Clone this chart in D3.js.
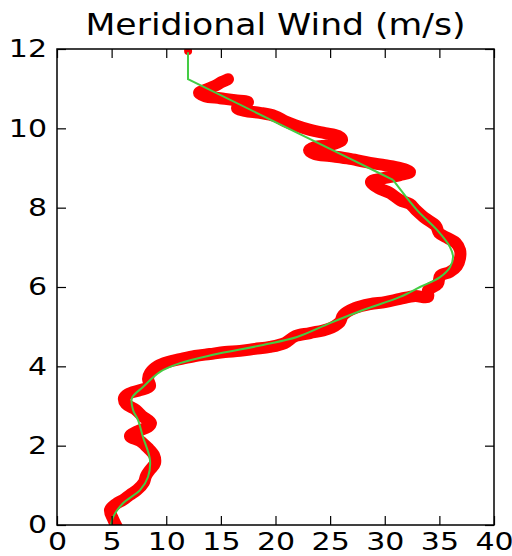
<!DOCTYPE html>
<html>
<head>
<meta charset="utf-8">
<script src="https://cdn.jsdelivr.net/npm/d3@7"></script>
<style>
  html, body { margin: 0; padding: 0; background: #fff; }
  svg { display: block; font-family: "DejaVu Sans", sans-serif; }
</style>
</head>
<body>
<svg id="canvas"></svg>
<script>
// observed wind (red) - altitude in km, wind in m/s, bottom to top
const obsAlt = [-0.05,0.15,0.38,0.53,0.63,0.76,0.88,1.08,1.24,1.39,1.56,1.76,1.94,2.12,2.24,2.37,2.47,2.57,2.75,2.90,
  3.05,3.20,3.30,3.40,3.50,3.68,3.83,4.01,4.11,4.18,4.26,4.31,4.36,4.39,4.44,4.49,4.59,4.76,4.84,4.94,
  5.12,5.29,5.47,5.57,5.62,5.70,5.77,5.75,5.92,6.08,6.28,6.38,6.53,6.73,6.93,7.11,7.23,7.36,7.54,7.74,
  7.94,8.09,8.19,8.37,8.50,8.65,8.75,8.82,8.90,9.00,9.07,9.13,9.23,9.30,9.35,9.45,9.53,9.58,9.71,9.81,
  9.88,9.96,10.08,10.18,10.31,10.39,10.44,10.51,10.61,10.66,10.71,10.76,10.81,10.89,10.97,11.07,11.17,11.24];
const obsWind = [5.49,5.13,4.85,5.40,6.04,6.68,7.32,7.96,8.15,8.51,8.97,8.88,8.33,7.60,6.68,7.41,8.33,8.60,7.78,7.23,
  6.32,6.13,6.50,7.60,8.51,8.33,8.51,9.24,10.16,11.26,12.63,14.00,15.38,16.75,18.12,19.50,20.87,21.78,23.16,24.81,
  25.90,26.18,27.28,28.65,30.02,31.40,32.77,33.96,33.96,34.87,35.06,35.97,36.61,36.89,36.89,36.52,35.79,34.97,34.69,33.68,
  32.86,32.31,31.40,30.48,29.38,28.74,30.02,31.40,32.31,31.40,30.02,28.65,26.82,24.99,23.62,23.07,23.62,24.99,26.09,25.72,
  24.53,23.16,21.78,20.87,19.95,18.58,17.21,16.48,17.21,17.48,16.29,14.92,13.55,13.00,13.55,14.46,15.10,15.65];
// lone observation at the top
const topAlt = [11.95];
const topWind = [12.0];

// smoothed profile (green)
const fitAlt = [0.00,0.20,0.55,0.88,1.21,1.64,2.22,2.65,2.90,3.20,3.48,3.86,4.08,4.29,4.54,4.74,5.09,5.42,5.75,6.00,
  6.25,6.50,6.76,7.01,7.44,7.94,8.70,8.95,9.20,11.24,11.92];
const fitWind = [4.94,5.13,6.04,7.60,8.33,8.51,7.87,7.41,6.96,6.86,7.87,9.43,11.26,14.28,18.86,21.97,24.99,28.01,31.40,33.23,
  35.06,35.97,36.25,35.97,34.78,32.95,30.76,28.92,27.09,11.99,11.99];
// above this altitude the fit is drawn with straight segments
const fitBreak = 8.70;

const xTicks = [0,5,10,15,20,25,30,35,40];
const yTicks = [0,2,4,6,8,10,12];
const title = "Meridional Wind (m/s)";

const width = 512;
const height = 556;
const margin = {left: 57, right: 18, top: 49, bottom: 31};

const canvas = d3.select('#canvas').attr('width', width).attr('height', height);

const xScale = d3.scaleLinear().domain([0, 40]).range([margin.left, width - margin.right]);
const yScale = d3.scaleLinear().domain([0, 12]).range([height - margin.bottom, margin.top]);

canvas.append('defs').append('clipPath').attr('id', 'plotclip')
  .append('rect')
  .attr('x', xScale(0)).attr('y', yScale(12))
  .attr('width', xScale(40) - xScale(0)).attr('height', yScale(0) - yScale(12));

const plot = canvas.append('g').attr('clip-path', 'url(#plotclip)');

const obs = obsAlt.map((a, i) => [obsWind[i], a]);
const fit = fitAlt.map((a, i) => [fitWind[i], a]);

plot.append('path')
  .datum(obs)
  .attr('d', d3.line().x(d => xScale(d[0])).y(d => yScale(d[1])).curve(d3.curveCatmullRom))
  .attr('fill', 'none')
  .attr('stroke', '#ff0000')
  .attr('stroke-width', 12)
  .attr('stroke-linejoin', 'round')
  .attr('stroke-linecap', 'round');

plot.selectAll('circle.top')
  .data(topAlt)
  .enter()
  .append('circle')
  .attr('class', 'top')
  .attr('cx', (d, i) => xScale(topWind[i]))
  .attr('cy', d => yScale(d))
  .attr('r', 4)
  .attr('fill', '#ff0000');

const fitLine = d3.line().x(d => xScale(d[0])).y(d => yScale(d[1]));

plot.append('path')
  .datum(fit.filter(d => d[1] <= fitBreak))
  .attr('d', fitLine.curve(d3.curveCatmullRom))
  .attr('fill', 'none')
  .attr('stroke', '#44cc44')
  .attr('stroke-width', 2);

plot.append('path')
  .datum(fit.filter(d => d[1] >= fitBreak))
  .attr('d', fitLine.curve(d3.curveLinear))
  .attr('fill', 'none')
  .attr('stroke', '#44cc44')
  .attr('stroke-width', 2);

// axes, ticks pointing inwards on all four sides
const tickLen = 9;
const fontSize = 24;
const stretch = 1.25;

const xBottom = d3.axisBottom(xScale).tickValues(xTicks).tickSizeInner(-tickLen).tickSizeOuter(0).tickPadding(8);
const xTop = d3.axisTop(xScale).tickValues(xTicks).tickSizeInner(-tickLen).tickSizeOuter(0).tickFormat('');
const yLeft = d3.axisLeft(yScale).tickValues(yTicks).tickSizeInner(-tickLen).tickSizeOuter(0).tickPadding(10);
const yRight = d3.axisRight(yScale).tickValues(yTicks).tickSizeInner(-tickLen).tickSizeOuter(0).tickFormat('');

const styleAxis = g => {
  g.select('.domain').remove();
  g.selectAll('line').attr('stroke', '#000').attr('stroke-width', 1.2);
  g.selectAll('text')
    .attr('fill', '#000')
    .style('font-size', fontSize + 'px')
    .style('font-family', '"DejaVu Sans", sans-serif')
    .attr('lengthAdjust', 'spacingAndGlyphs')
    .attr('textLength', function() { return this.getComputedTextLength() * stretch; });
};

canvas.append('g').attr('transform', 'translate(0,' + yScale(0) + ')').call(xBottom).call(styleAxis);
canvas.append('g').attr('transform', 'translate(0,' + yScale(12) + ')').call(xTop).call(styleAxis);
canvas.append('g').attr('transform', 'translate(' + xScale(0) + ',0)').call(yLeft).call(styleAxis);
canvas.append('g').attr('transform', 'translate(' + xScale(40) + ',0)').call(yRight).call(styleAxis);

canvas.append('rect')
  .attr('x', xScale(0)).attr('y', yScale(12))
  .attr('width', xScale(40) - xScale(0)).attr('height', yScale(0) - yScale(12))
  .attr('fill', 'none').attr('stroke', '#000').attr('stroke-width', 1.5);

canvas.append('text')
  .attr('x', (xScale(0) + xScale(40)) / 2)
  .attr('y', 35)
  .attr('text-anchor', 'middle')
  .style('font-size', '30px')
  .attr('fill', '#000')
  .attr('lengthAdjust', 'spacingAndGlyphs')
  .attr('textLength', 380)
  .text(title);
</script>
</body>
</html>
